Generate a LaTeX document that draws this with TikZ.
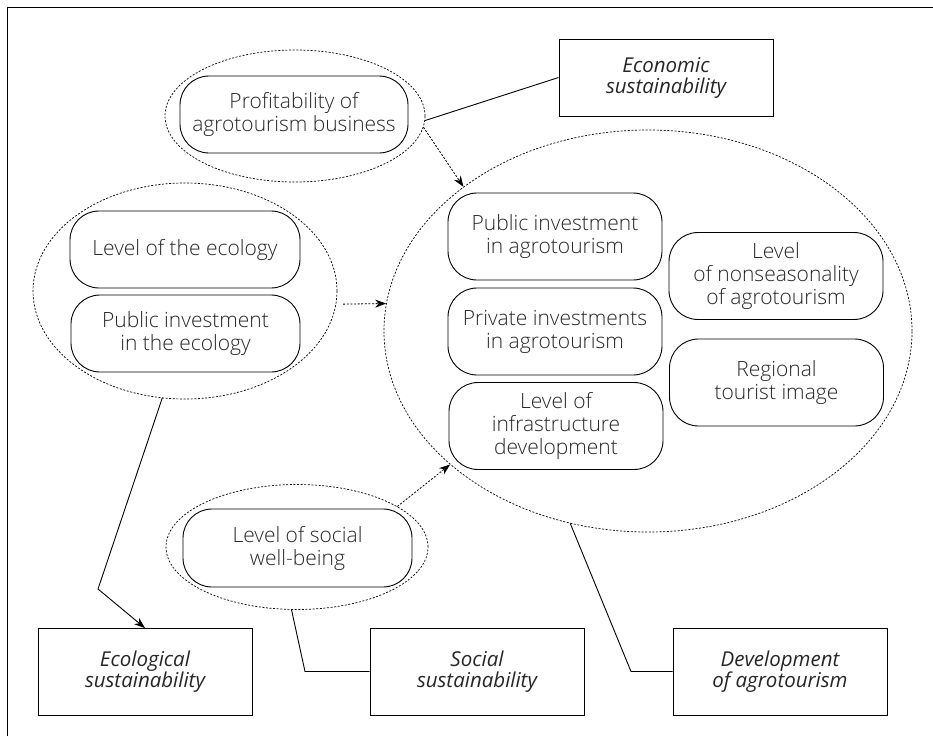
\documentclass[tikz,border=0pt]{standalone}
\usepackage{fontspec}
\setmainfont{Open Sans Light}
\newfontfamily\goalfont{Open Sans}
\usetikzlibrary{shapes.geometric, arrows.meta}

\begin{document}
\begin{tikzpicture}[x=1pt, y=-1pt,
  item/.style={draw, line width=0.9pt, rounded corners=29pt, align=center, inner sep=0pt, minimum width=214pt, minimum height=87pt, font=\fontsize{21}{23}\selectfont, text=black!85},
  group/.style={draw, ellipse, dash pattern=on 2pt off 1.6pt, line width=0.7pt, inner sep=0pt},
  goal/.style={draw, line width=0.9pt, rectangle, align=center, inner sep=0pt, minimum width=214pt, minimum height=87pt, font=\goalfont\fontsize{20.5}{21}\selectfont\itshape, text=black!85},
  con/.style={line width=0.9pt},
  dcon/.style={dash pattern=on 2pt off 1.6pt, line width=0.8pt, -{Stealth[length=11pt,width=8pt]}}]
\useasboundingbox (0,0) rectangle (933,736);
\draw[con] (7,736) -- (7,7) -- (933,7);

\node[group, minimum width=260pt, minimum height=132pt] (o1) at (295,116) {};
\node[group, minimum width=304pt, minimum height=216pt] (o2) at (185,291) {};
\node[group, minimum width=528pt, minimum height=402pt] (o3) at (648,331) {};
\node[group, minimum width=262pt, minimum height=125pt] (o4) at (297,547) {};

\node[item, minimum width=228pt, minimum height=77pt] (t1) at (294,114.5) {Profitability of\\agrotourism business};
\node[item, minimum width=230pt, minimum height=77pt] (t2) at (185,249.5) {Level of the ecology};
\node[item, minimum width=229pt, minimum height=77pt] (t3) at (185.5,333.5) {Public investment\\in the ecology};
\node[item] (t4) at (555,236.5) {Public investment\\in agrotourism};
\node[item] (t5) at (555,331.5) {Private investments\\in agrotourism};
\node[item] (t6) at (556,426) {Level of\\infrastructure\\development};
\node[item] (t7) at (776,276) {Level\\of nonseasonality\\of agrotourism};
\node[item] (t8) at (776.5,382.5) {Regional\\tourist image};
\node[item, minimum width=229pt, minimum height=78pt] (t9) at (297.5,548) {Level of social\\well-being};

\node[goal, minimum height=77pt] (s1) at (666,77.5) {Economic\\sustainability};
\node[goal] (s2) at (145,672) {Ecological\\sustainability};
\node[goal] (s3) at (477,671.5) {Social\\sustainability};
\node[goal] (s4) at (780,671.5) {Development\\of agrotourism};

\coordinate (k1) at (98,589);
\coordinate (k2) at (305,671.5);
\coordinate (k3) at (631,671.5);

\draw[con] (o1.-2) -- (s1.west);
\draw[con, -{Stealth[length=11pt,width=8pt]}] (o2.-102) -- (k1) -- (s2.north);
\draw[con] (o4.-95) -- (k2) -- (s3.west);
\draw[con] (o3.-112) -- (k3) -- (s4.west);
\draw[dcon] (o1.-5) -- (o3.142);
\draw[dcon, shorten <=7pt] (o2.-5) -- (o3.174);
\draw[dcon] (o4.22) -- (o3.214);
\end{tikzpicture}
\end{document}
